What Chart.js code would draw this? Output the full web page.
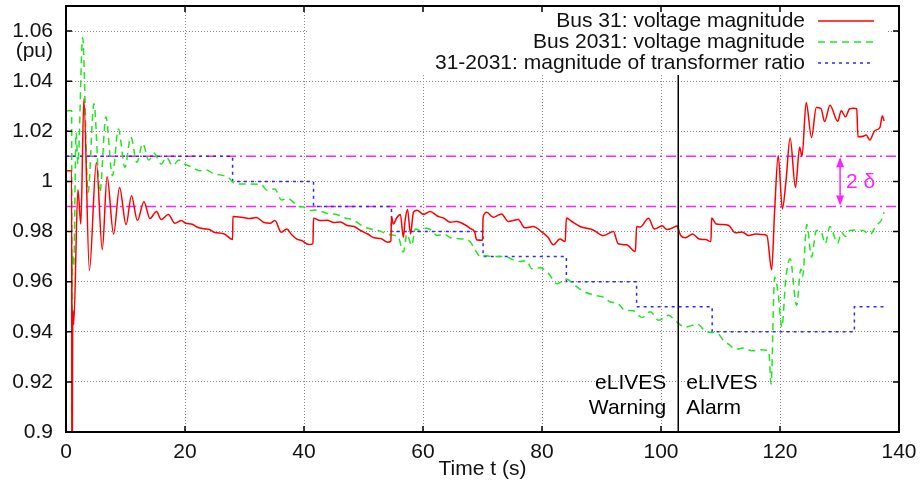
<!DOCTYPE html>
<html>
<head>
<meta charset="utf-8">
<script src="https://cdn.jsdelivr.net/npm/chart.js@4.4.1/dist/chart.umd.min.js"></script>
<style>
html,body{margin:0;padding:0;background:#fff;}
#wrap{width:924px;height:489px;position:relative;}
</style>
</head>
<body>
<div id="wrap"><canvas id="c" width="924" height="489"></canvas></div>
<script>
// ---- data ----
const xTicks = [0, 20, 40, 60, 80, 100, 120, 140];
const yTicks = [0.9, 0.92, 0.94, 0.96, 0.98, 1.0, 1.02, 1.04, 1.06];

const bus31Label = "Bus 31: voltage magnitude";
const bus31T = [0,0.95,1.0,1.15,1.3,2.0,2.5,3.0,3.93,5.1,6.1,6.9,8.0,9.0,10.1,11.0,12.0,13.1,14.1,15.2,16.0,17.2,18.3,19.4,20.1,21.2,22.1,23.2,24.1,24.9,26.6,28.0,28.05,29.8,30.9,32.0,33.2,34.3,35.1,36.2,37.1,37.9,38.8,39.6,40.8,41.5,41.6,42.7,43.9,45.0,46.1,47.3,48.4,49.5,50.7,51.8,52.9,54.1,54.6,54.7,55.0,55.6,56.2,56.7,57.0,57.4,57.9,58.4,59.0,60.1,61.2,62.4,63.5,64.6,65.7,66.8,67.9,68.7,69.0,70.0,70.1,70.7,71.8,73.2,74.3,76.0,77.1,78.5,79.9,81.0,81.9,83.0,83.9,84.1,85.0,86.4,88.6,90.3,92.0,92.8,94.2,95.7,95.9,96.5,97.9,98.9,100.2,101.0,101.9,102.7,103.3,104.1,105.3,106.4,107.5,108.4,108.5,109.3,110.2,111.4,112.5,113.6,114.8,115.9,117.0,117.8,118.6,119.1,119.7,120.4,121.0,121.7,122.6,123.3,123.7,124.4,125.3,126.1,126.9,127.5,128.4,129.7,130.3,131.0,131.7,132.3,132.9,133.1,134.0,134.5,135.1,135.9,136.8,137.2,137.5];
const bus31V = [1.0043,1.0043,0.86,0.9486,0.943,0.9967,0.983,1.033,0.9645,1.0075,0.9728,1.0019,0.979,0.9976,0.9827,0.9943,0.9844,0.9919,0.9852,0.988,0.9848,0.9868,0.9833,0.9844,0.9833,0.9829,0.9817,0.9811,0.9808,0.9797,0.979,0.9768,0.986,0.9856,0.9852,0.9856,0.9837,0.9833,0.9844,0.9797,0.981,0.9788,0.977,0.9764,0.9748,0.9752,0.9853,0.9844,0.9845,0.9836,0.9838,0.9824,0.982,0.9804,0.979,0.9775,0.9772,0.9757,0.9762,0.986,0.983,0.9855,0.9868,0.9777,0.9845,0.9888,0.979,0.9877,0.9885,0.9868,0.988,0.9862,0.9853,0.9837,0.984,0.983,0.9813,0.9797,0.9767,0.9765,0.9857,0.9877,0.9857,0.987,0.984,0.9848,0.9815,0.982,0.98,0.9777,0.9747,0.977,0.976,0.9854,0.984,0.982,0.9806,0.9784,0.98,0.9751,0.9747,0.972,0.982,0.9818,0.9853,0.981,0.9823,0.9808,0.9814,0.9822,0.9784,0.9775,0.979,0.977,0.9768,0.976,0.9854,0.983,0.9828,0.9824,0.9795,0.9798,0.9784,0.979,0.9788,0.9784,0.9647,0.9884,1.0103,0.989,1.0,1.0173,0.9976,1.0136,1.010,1.0315,1.0175,1.0295,1.029,1.0239,1.0304,1.024,1.0282,1.0258,1.029,1.0292,1.029,1.0178,1.018,1.0185,1.0165,1.0202,1.0216,1.0262,1.0241];

const bus2031Label = "Bus 2031: voltage magnitude";
const bus2031T = [0,0.95,1.0,1.1,1.3,1.7,2.0,2.8,3.7,4.7,5.7,6.7,7.8,8.8,9.9,10.9,11.9,12.9,13.9,14.8,16.0,16.9,17.9,19.0,19.9,21.0,22.5,23.6,24.7,25.9,27.3,28.1,29.2,30.9,32.9,33.7,35.1,36.2,37.3,38.2,39.0,39.9,41.0,42.1,43.8,45.5,46.9,48.3,49.7,51.1,52.5,53.9,55.0,55.8,56.7,57.3,58.1,58.7,59.5,60.4,61.2,62.4,63.5,64.6,65.7,66.8,67.9,68.8,69.7,70.4,71.5,73.8,75.2,76.3,77.4,78.3,79.7,81.1,82.5,84.2,85.3,86.9,88.9,90.3,91.4,92.8,93.9,95.3,96.8,98.2,99.6,101.3,102.4,104.1,106.1,107.7,109.4,110.5,111.6,112.5,113.9,115.3,116.7,118.1,118.5,119.1,119.7,120.3,121.0,121.7,122.8,123.5,123.8,124.5,125.3,126.1,126.9,127.6,128.4,129.7,130.3,131.0,131.7,132.8,134.0,135.1,136.2,137.0,137.5];
const bus2031V = [1.0282,1.0282,0.86,0.971,0.966,1.0195,1.007,1.0573,0.9956,1.031,0.9956,1.0258,1.0023,1.0209,1.0056,1.0178,1.0076,1.0151,1.0085,1.0112,1.0069,1.0096,1.0063,1.0085,1.007,1.0059,1.0043,1.0046,1.0032,1.0026,1.0016,0.9996,0.999,0.999,0.9986,0.9966,0.997,0.9926,0.9932,0.9917,0.990,0.9898,0.9884,0.9886,0.9873,0.9868,0.9854,0.9846,0.9824,0.9811,0.9804,0.9791,0.9785,0.978,0.9718,0.979,0.9744,0.981,0.9804,0.9813,0.9808,0.9784,0.979,0.9775,0.9772,0.977,0.976,0.9725,0.9698,0.9704,0.9700,0.970,0.9687,0.968,0.9684,0.9651,0.9655,0.9632,0.9592,0.961,0.9589,0.9562,0.9545,0.9538,0.952,0.9512,0.9486,0.9484,0.9457,0.948,0.9446,0.9466,0.9444,0.9419,0.943,0.9399,0.9395,0.9366,0.9346,0.933,0.9335,0.9324,0.9328,0.9324,0.9191,0.9618,0.955,0.9419,0.9618,0.9691,0.9505,0.965,0.962,0.9828,0.9698,0.9804,0.980,0.9751,0.982,0.9753,0.9797,0.978,0.9804,0.9806,0.9804,0.9788,0.9825,0.9844,0.9877];

const ratioLabel = "31-2031: magnitude of transformer ratio";
const ratioT = [0, 28.0, 41.6, 54.7, 70.1, 84.1, 95.9, 108.6, 132.5, 137.5];
const ratioV = [1.01, 1.00, 0.99, 0.98, 0.97, 0.96, 0.95, 0.94, 0.95, 0.95];

const bandT = [0, 140];
const bandUpper = [1.01, 1.01];
const bandLower = [0.99, 0.99];
const bandLabel = "2 δ";

const alarmT = [102.9, 102.9];
const alarmV = [0.9, 1.07];
const warningText = ["eLIVES", "Warning"];
const alarmText = ["eLIVES", "Alarm"];
const arrowT = 130.1;

const xTitle = "Time t (s)";
const yUnit = "(pu)";

// ---- helpers ----
const pts = (t, v) => t.map((x, i) => ({x: x, y: v[i]}));
const FONT = "'Liberation Sans', Arial, Helvetica, sans-serif";
const FS = 21;
const RED = '#ff0000', GREEN = '#22e622', BLUE = '#2a2aff', MAG = '#ff22ff';

const framePlugin = {
  id: 'frame',
  afterDatasetsDraw(chart) {
    const ctx = chart.ctx, xs = chart.scales.x, ys = chart.scales.y;
    const a = chart.chartArea;
    ctx.save();
    // 2 delta arrow
    const ax = xs.getPixelForValue(arrowT);
    const y1 = ys.getPixelForValue(1.01), y2 = ys.getPixelForValue(0.99);
    ctx.strokeStyle = MAG; ctx.fillStyle = MAG; ctx.lineWidth = 1.5; ctx.setLineDash([]);
    ctx.beginPath(); ctx.moveTo(ax, y1 + 3); ctx.lineTo(ax, y2 - 3); ctx.stroke();
    ctx.beginPath(); ctx.moveTo(ax, y1 + 1); ctx.lineTo(ax - 4, y1 + 11); ctx.lineTo(ax + 4, y1 + 11); ctx.closePath(); ctx.fill();
    ctx.beginPath(); ctx.moveTo(ax, y2 - 1); ctx.lineTo(ax - 4, y2 - 11); ctx.lineTo(ax + 4, y2 - 11); ctx.closePath(); ctx.fill();
    ctx.font = FS + 'px ' + FONT; ctx.textAlign = 'left'; ctx.textBaseline = 'middle';
    ctx.fillText(bandLabel, ax + 6, ys.getPixelForValue(1.0) + 1);
    // eLIVES texts
    const lx = xs.getPixelForValue(alarmT[0]);
    ctx.fillStyle = '#000';
    ctx.textAlign = 'right';
    ctx.fillText(warningText[0], lx - 12, 383);
    ctx.fillText(warningText[1], lx - 12, 408);
    ctx.textAlign = 'left';
    ctx.fillText(alarmText[0], lx + 8, 383);
    ctx.fillText(alarmText[1], lx + 8, 408);
    // legend box
    ctx.fillStyle = '#fff';
    ctx.fillRect(308, a.top + 1, 887 - 308, 74 - a.top);
    const rows = [
      {label: bus31Label, color: RED, dash: [], w: 1.5},
      {label: bus2031Label, color: GREEN, dash: [7, 5], w: 1.5},
      {label: ratioLabel, color: BLUE, dash: [3, 4], w: 1.5}
    ];
    ctx.font = FS + 'px ' + FONT; ctx.textAlign = 'right'; ctx.textBaseline = 'middle';
    rows.forEach((r, i) => {
      const y = 21 + i * 21;
      ctx.fillStyle = '#111';
      ctx.fillText(r.label, 805, y);
      ctx.strokeStyle = r.color; ctx.lineWidth = r.w; ctx.setLineDash(r.dash);
      ctx.beginPath(); ctx.moveTo(818, y); ctx.lineTo(874, y); ctx.stroke();
    });
    ctx.setLineDash([]);
    // (pu)
    ctx.fillStyle = '#111'; ctx.textAlign = 'right';
    ctx.fillText(yUnit, 53, 51);
    // border
    ctx.strokeStyle = '#000'; ctx.lineWidth = 2;
    ctx.strokeRect(a.left, a.top, a.right - a.left, a.bottom - a.top);
    // inward mirror ticks
    ctx.lineWidth = 1.5;
    ctx.beginPath();
    yTicks.forEach(v => {
      const y = ys.getPixelForValue(v);
      ctx.moveTo(a.left, y); ctx.lineTo(a.left + 6, y);
      ctx.moveTo(a.right, y); ctx.lineTo(a.right - 6, y);
    });
    xTicks.forEach(v => {
      const x = xs.getPixelForValue(v);
      ctx.moveTo(x, a.bottom); ctx.lineTo(x, a.bottom - 6);
      ctx.moveTo(x, a.top); ctx.lineTo(x, a.top + 6);
    });
    ctx.stroke();
    ctx.restore();
  }
};

new Chart(document.getElementById('c'), {
  type: 'line',
  data: {
    datasets: [
      {label: bus31Label, data: pts(bus31T, bus31V), borderColor: RED, borderWidth: 1.5,
       pointRadius: 0, cubicInterpolationMode: 'monotone', order: 1},
      {label: bus2031Label, data: pts(bus2031T, bus2031V), borderColor: GREEN, borderWidth: 1.5,
       borderDash: [7, 5], pointRadius: 0, cubicInterpolationMode: 'monotone', order: 2},
      {label: ratioLabel, data: pts(ratioT, ratioV), borderColor: BLUE, borderWidth: 1.5,
       borderDash: [3, 4], pointRadius: 0, stepped: true, order: 3},
      {label: 'upper', data: pts(bandT, bandUpper), borderColor: MAG, borderWidth: 1.5,
       borderDash: [10, 4, 2, 4], pointRadius: 0, order: 4},
      {label: 'lower', data: pts(bandT, bandLower), borderColor: MAG, borderWidth: 1.5,
       borderDash: [10, 4, 2, 4], pointRadius: 0, order: 4},
      {label: 'alarm', data: pts(alarmT, alarmV), borderColor: '#000', borderWidth: 1.5,
       pointRadius: 0, order: 0}
    ]
  },
  options: {
    responsive: false,
    animation: false,
    layout: {padding: {left: 0, right: 25, top: 6, bottom: 0}},
    plugins: {legend: {display: false}, tooltip: {enabled: false}},
    scales: {
      x: {
        type: 'linear', min: 0, max: 140,
        afterBuildTicks: s => { s.ticks = xTicks.map(v => ({value: v})); },
        afterFit: s => { s.height = 57; s.paddingLeft = 0; s.paddingRight = 0; },
        grid: {color: '#888', lineWidth: 1, drawTicks: false},
        border: {display: false, dash: [1, 2]},
        ticks: {padding: 8, color: '#111', font: {family: FONT, size: FS}, maxRotation: 0,
                callback: v => String(v)},
        title: {display: true, text: xTitle, color: '#111', font: {family: FONT, size: FS},
                padding: {top: 0, bottom: 7}}
      },
      y: {
        type: 'linear', min: 0.9, max: 1.07,
        afterBuildTicks: s => { s.ticks = yTicks.map(v => ({value: v})); },
        afterFit: s => { s.width = 66; s.paddingTop = 0; s.paddingBottom = 0; },
        grid: {color: '#888', lineWidth: 1, drawTicks: false},
        border: {display: false, dash: [1, 2]},
        ticks: {padding: 13, color: '#111', font: {family: FONT, size: FS},
                callback: v => String(Number(v.toFixed(2)))}
      }
    }
  },
  plugins: [framePlugin]
});
</script>
</body>
</html>
